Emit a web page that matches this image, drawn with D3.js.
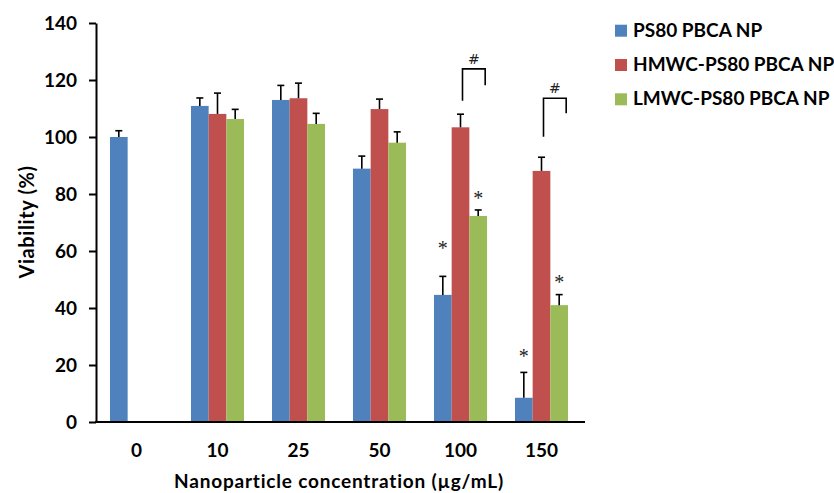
<!DOCTYPE html>
<html>
<head>
<meta charset="utf-8">
<script src="https://cdn.jsdelivr.net/npm/d3@7"></script>
<style>
  body { margin: 0; background: #fff; }
  svg { font-family: Lato, "Open Sans", sans-serif; font-weight: bold; }
</style>
</head>
<body>
<div id="chart"></div>
<script>
// data
var categories = ['0', '10', '25', '50', '100', '150'];
var seriesNames = ['PS80 PBCA NP', 'HMWC-PS80 PBCA NP', 'LMWC-PS80 PBCA NP'];
var colors = ['#4f81bd', '#c0504d', '#9bbb59'];
var ps80 = [100, 110.9, 113.0, 88.9, 44.6, 8.5];
var ps80Err = [2.2, 2.8, 5.1, 4.4, 6.5, 8.9];
var hmwc = [null, 108.1, 113.6, 109.8, 103.4, 88.1];
var hmwcErr = [null, 7.3, 5.3, 3.5, 4.6, 4.8];
var lmwc = [null, 106.3, 104.6, 98.0, 72.3, 41.0];
var lmwcErr = [null, 3.4, 3.7, 3.8, 2.1, 3.7];
var yTicks = [0, 20, 40, 60, 80, 100, 120, 140];
// significance marks: [category, series, level]
var stars = [['100', 0, 62], ['100', 2, 79.6], ['150', 0, 24.3], ['150', 2, 50.2]];
// brackets between HMWC and LMWC: [category, left end, top, right end]
var brackets = [['100', 112.7, 123.9, 118.2], ['150', 100.1, 113.6, 108.3]];

var w = 834, h = 493;
var mLeft = 96, mRight = 582, mTop = 23, mBottom = 422;

var svg = d3.select('#chart').append('svg')
    .attr('width', w)
    .attr('height', h);

var values = [ps80, hmwc, lmwc];
var errs = [ps80Err, hmwcErr, lmwcErr];
var rows = [];
categories.forEach(function(c, i) {
  values.forEach(function(v, s) {
    if (v[i] != null) rows.push({ cat: c, s: s, v: v[i], e: errs[s][i] });
  });
});

var x0 = d3.scaleBand().domain(categories).range([mLeft, mRight])
    .paddingInner(0.345).paddingOuter(0.1725);
var x1 = d3.scaleBand().domain([0, 1, 2]).range([0, x0.bandwidth()]);
var y = d3.scaleLinear().domain([0, 140]).range([mBottom, mTop]);
var cx = (cat, s) => x0(cat) + x1(s) + x1.bandwidth() / 2;

// bars
svg.append('g').selectAll('rect')
    .data(rows)
    .enter()
    .append('rect')
        .attr('x', d => x0(d.cat) + x1(d.s))
        .attr('y', d => y(d.v))
        .attr('width', x1.bandwidth())
        .attr('height', d => y(0) - y(d.v))
        .style('fill', d => colors[d.s]);

// error bars (upper only)
var eb = svg.append('g').style('stroke', '#000').style('stroke-width', 1.6);
eb.selectAll('line.v')
    .data(rows)
    .enter()
    .append('line')
        .attr('class', 'v')
        .attr('x1', d => cx(d.cat, d.s))
        .attr('x2', d => cx(d.cat, d.s))
        .attr('y1', d => y(d.v))
        .attr('y2', d => y(d.v + d.e));
eb.selectAll('line.c')
    .data(rows)
    .enter()
    .append('line')
        .attr('class', 'c')
        .attr('x1', d => cx(d.cat, d.s) - 3.5)
        .attr('x2', d => cx(d.cat, d.s) + 3.5)
        .attr('y1', d => y(d.v + d.e))
        .attr('y2', d => y(d.v + d.e));

// y axis
var yAxis = svg.append('g')
    .attr('transform', 'translate(' + mLeft + ',0)')
    .call(d3.axisLeft(y).tickValues(yTicks).tickSize(7).tickSizeOuter(0).tickPadding(12));
yAxis.selectAll('line, path').style('stroke', '#000').style('stroke-width', 2);
yAxis.selectAll('text')
    .style('font-size', '19px').style('font-family', 'Lato, sans-serif')
    .style('font-weight', 'bold').style('fill', '#000');

// x axis
var xAxis = svg.append('g')
    .attr('transform', 'translate(0,' + mBottom + ')')
    .call(d3.axisBottom(x0).tickSize(0).tickSizeOuter(0).tickPadding(22));
xAxis.select('path').attr('d', 'M' + (mLeft - 1) + ',0H' + (mRight + 3))
    .style('stroke', '#000').style('stroke-width', 2);
xAxis.selectAll('text')
    .style('font-size', '19px').style('font-family', 'Lato, sans-serif')
    .style('font-weight', 'bold').style('fill', '#000');

// titles
svg.append('text')
    .text('Nanoparticle concentration (µg/mL)')
    .attr('x', (mLeft + mRight) / 2)
    .attr('y', 488)
    .attr('text-anchor', 'middle')
    .style('font-size', '19px')
    .style('letter-spacing', '0.8px');
svg.append('text')
    .text('Viability (%)')
    .attr('transform', 'translate(34,222) rotate(-90)')
    .attr('text-anchor', 'middle')
    .style('font-size', '20px')
    .style('letter-spacing', '0.6px');

// stars
svg.append('g').selectAll('text')
    .data(stars)
    .enter()
    .append('text')
        .text('*')
        .attr('x', d => cx(d[0], d[1]))
        .attr('y', d => y(d[2]) + 10)
        .attr('text-anchor', 'middle')
        .style('font-family', '"Liberation Serif", serif')
        .style('font-weight', 'normal')
        .style('fill', '#222')
        .style('font-size', '20px');

// brackets with #
var bx = d => [cx(d[0], 1) + 2, cx(d[0], 2) + 7];
var bg = svg.append('g');
bg.selectAll('path')
    .data(brackets)
    .enter()
    .append('path')
        .attr('d', d => 'M' + bx(d)[0] + ',' + y(d[1]) + 'V' + y(d[2]) + 'H' + bx(d)[1] + 'V' + y(d[3]))
        .style('fill', 'none')
        .style('stroke', '#000')
        .style('stroke-width', 1.6);
bg.selectAll('text')
    .data(brackets)
    .enter()
    .append('text')
        .text('#')
        .attr('x', d => (bx(d)[0] + bx(d)[1]) / 2)
        .attr('y', d => y(d[2]) - 5)
        .attr('text-anchor', 'middle')
        .style('font-family', '"DejaVu Sans", sans-serif')
        .style('font-weight', 'normal')
        .style('fill', '#222')
        .style('font-size', '14px');

// legend
var lg = svg.append('g').attr('transform', 'translate(615,0)');
var item = lg.selectAll('g')
    .data(seriesNames)
    .enter()
    .append('g')
        .attr('transform', (d, i) => 'translate(0,' + (36.7 + i * 34.3) + ')');
item.append('rect')
    .attr('x', 0).attr('y', -12)
    .attr('width', 12).attr('height', 12)
    .style('fill', (d, i) => colors[i]);
item.append('text')
    .text(d => d)
    .attr('x', 18)
    .attr('y', 0)
    .style('font-size', '19px');
</script>
</body>
</html>
